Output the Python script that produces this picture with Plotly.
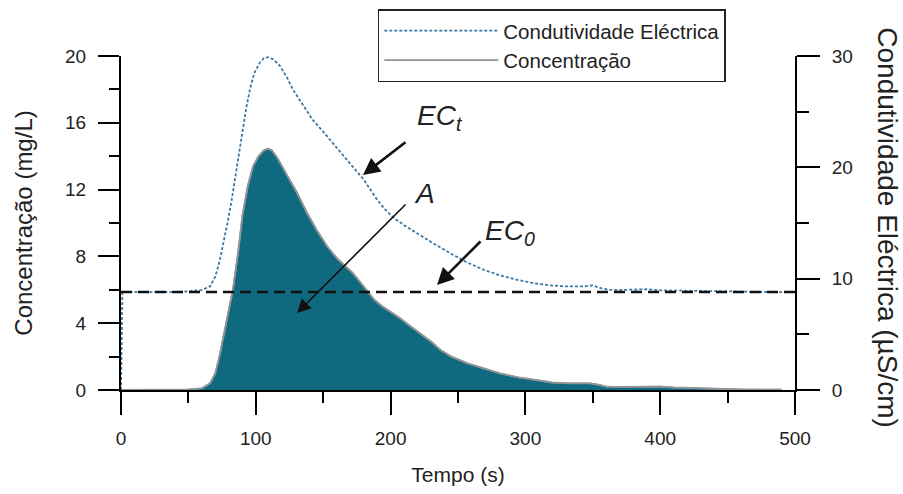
import plotly.graph_objects as go

# ---- data ----
time_c = [0, 10, 20, 30, 40, 50, 60, 66, 70, 73, 77, 80, 83, 87, 90, 94, 98, 102, 106, 109,
          112, 116, 120, 125, 130, 138, 145, 153, 160, 168, 172, 176, 182, 188, 194, 200, 207,
          215, 222, 230, 237, 245, 257, 270, 281, 295, 306, 320, 331, 340, 348, 355, 360, 370,
          380, 390, 400, 410, 420, 430, 445, 460, 475, 490]
conc = [0, 0, 0, 0, 0.02, 0.03, 0.1, 0.4, 1.0, 2.0, 3.6, 4.8, 6.0, 8.3, 10.4, 12.2, 13.4, 14.0, 14.35, 14.45,
        14.35, 13.9, 13.3, 12.6, 11.9, 10.6, 9.6, 8.6, 7.9, 7.3, 7.0, 6.6, 6.0, 5.4, 5.0, 4.7, 4.3,
        3.8, 3.4, 2.9, 2.4, 2.0, 1.6, 1.25, 1.0, 0.75, 0.6, 0.45, 0.4, 0.38, 0.4, 0.3, 0.2, 0.18,
        0.2, 0.22, 0.2, 0.15, 0.12, 0.1, 0.05, 0.03, 0.02, 0.02]

time_ec = [0, 1, 10, 20, 30, 40, 50, 60, 66, 70, 73, 76, 79, 82, 86, 90, 93, 96, 99, 103, 106, 109,
           113, 118, 123, 128, 135, 142, 150, 157, 165, 172, 176, 180, 185, 190, 196, 202, 210, 219,
           230, 244, 256, 269, 281, 294, 306, 318, 330, 343, 350, 357, 363, 375, 390, 400, 420, 440,
           460, 480, 491]
ec = [0, 8.8, 8.8, 8.8, 8.75, 8.8, 8.85, 9.0, 9.3, 10.2, 11.5, 13.2, 15.0, 17.0, 20.0, 23.0, 25.4, 27.2, 28.5, 29.4, 29.8, 29.9,
      29.7, 29.1, 28.1, 26.9, 25.6, 24.3, 23.2, 22.2, 21.0, 20.0, 19.4, 18.9, 18.0, 17.1, 16.2, 15.5, 14.8, 14.1,
      13.3, 12.3, 11.5, 10.8, 10.3, 9.9, 9.6, 9.4, 9.3, 9.3, 9.4, 9.1, 9.0, 9.0, 9.05, 8.95, 8.9, 8.85,
      8.8, 8.8, 8.8]

ec0_time = [0, 500]
ec0_value = [8.8, 8.8]

x_ticks = [0, 100, 200, 300, 400, 500]
y_ticks = [0, 4, 8, 12, 16, 20]
y2_ticks = [0, 10, 20, 30]

FONT = "Liberation Sans, Arial, sans-serif"
TEAL = "#0f6a80"
OUTLINE = "#8f9496"
EC_COLOR = "#3f77a0"

fig = go.Figure()
# filled area for concentration
fig.add_trace(go.Scatter(
    x=time_c, y=conc, name="Concentração", mode="lines", showlegend=False,
    line=dict(color=OUTLINE, width=1.6), fill="tozeroy", fillcolor=TEAL, yaxis="y"))
# outline line (legend entry)
fig.add_trace(go.Scatter(
    x=time_c, y=conc, name="Concentração", mode="lines",
    line=dict(color=OUTLINE, width=1.8), legendrank=2, yaxis="y"))
fig.add_trace(go.Scatter(
    x=time_ec, y=ec, name="Condutividade Eléctrica", mode="lines",
    line=dict(color=EC_COLOR, width=1.8, dash="3px,2px"),
    legendrank=1, yaxis="y2"))
fig.add_trace(go.Scatter(
    x=ec0_time, y=ec0_value, mode="lines", showlegend=False,
    line=dict(color="#111111", width=2.5, dash="11px,6px"), yaxis="y2"))

axis_common = dict(showline=True, linecolor="black", linewidth=2, ticks="outside",
                   tickcolor="black", tickwidth=2, showgrid=False, zeroline=False,
                   automargin=False,
                   tickfont=dict(family=FONT, size=19, color="#222"))

fig.update_layout(
    width=903, height=494,
    margin=dict(l=121, r=108, t=56, b=104, autoexpand=False),
    paper_bgcolor="white", plot_bgcolor="white",
    font=dict(family=FONT, color="#222"),
    xaxis=dict(range=[0, 500], tickvals=x_ticks, ticklen=23,
               minor=dict(dtick=50, ticklen=11, tickwidth=2, tickcolor="black", ticks="outside"),
               ticklabelstandoff=7,
               title=dict(text="Tempo (s)", font=dict(size=21, family=FONT, color="#222"), standoff=20),
               **axis_common),
    yaxis=dict(range=[0, 20], tickvals=y_ticks, ticklen=21,
               minor=dict(dtick=2, ticklen=10, tickwidth=2, tickcolor="black", ticks="outside"),
               ticklabelstandoff=8,
               title=dict(text="Concentração (mg/L)", font=dict(size=24, family=FONT, color="#222"), standoff=26),
               **axis_common),
    yaxis2=dict(range=[0, 30], tickvals=y2_ticks, ticklen=23, overlaying="y", side="right",
                minor=dict(dtick=5, ticklen=12, tickwidth=2, tickcolor="black", ticks="outside"),
                ticklabelstandoff=8,
                **axis_common),
    legend=dict(x=0.381, y=1.14, xanchor="left", yanchor="top",
                bgcolor="white", bordercolor="#222", borderwidth=1.5,
                font=dict(family=FONT, size=20.5, color="#222"),
                itemwidth=114, tracegroupgap=0),
    showlegend=True,
)

# right axis title (reads top-to-bottom)
fig.add_annotation(text="Condutividade Eléctrica (µS/cm)", textangle=90,
                   xref="paper", yref="paper", x=1.138, y=0.487, xanchor="center", yanchor="middle",
                   showarrow=False, font=dict(family=FONT, size=28, color="#222"))

# arrows
fig.add_annotation(x=179.5, y=12.87, xref="x", yref="y", ax=44, ay=-34, text="",
                   showarrow=True, arrowhead=2, arrowsize=1.3, arrowwidth=2.6, arrowcolor="#111", standoff=0)
fig.add_annotation(x=130.6, y=4.61, xref="x", yref="y", ax=110, ay=-110, text="",
                   showarrow=True, arrowhead=2, arrowsize=1.7, arrowwidth=1.6, arrowcolor="#111", standoff=0)
fig.add_annotation(x=234.4, y=6.29, xref="x", yref="y", ax=45, ay=-45, text="",
                   showarrow=True, arrowhead=2, arrowsize=1.3, arrowwidth=2.6, arrowcolor="#111", standoff=0)

lab_font = dict(family=FONT, size=28, color="#222")
fig.add_annotation(x=236.6, y=16.3, xref="x", yref="y", text="<i>EC<sub>t</sub></i>", showarrow=False, font=lab_font)
fig.add_annotation(x=224.8, y=11.74, xref="x", yref="y", text="<i>A</i>", showarrow=False, font=lab_font)
fig.add_annotation(x=288.6, y=9.46, xref="x", yref="y", text="<i>EC<sub>0</sub></i>", showarrow=False, font=lab_font)

fig.write_html("out.html")
